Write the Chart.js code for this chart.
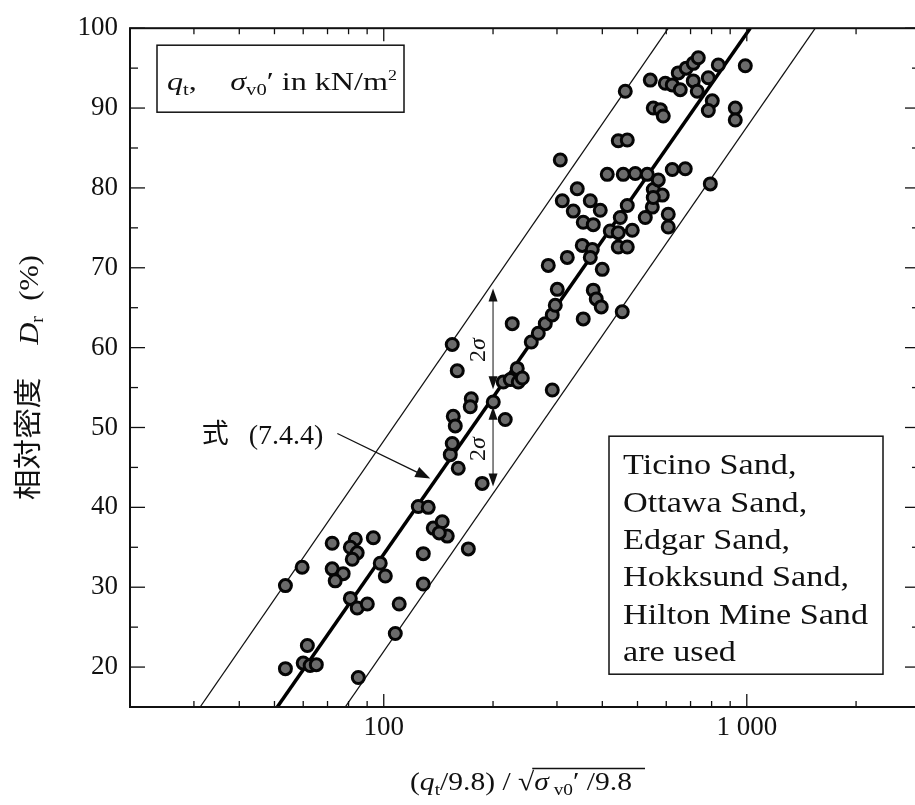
<!DOCTYPE html>
<html>
<head>
<meta charset="utf-8">
<script src="https://cdn.jsdelivr.net/npm/chart.js@4.4.1/dist/chart.umd.min.js"></script>
<style>
  html, body { margin: 0; padding: 0; overflow: hidden; background: #fff; }
  canvas { display: block; }
</style>
</head>
<body>
<canvas id="c" width="930" height="805" style="width:930px;height:805px"></canvas>
<script>
// Normalised cone resistance (q_t/9.8)/sqrt(sigma'_v0/9.8)
const normQt = [
  53.6, 60.0, 62.7, 65.2, 61.6, 85.1, 107.6, 110.3, 80.9, 84.5,
  90.1, 53.6, 59.6, 72.1, 77.3, 73.5, 72.1, 83.5, 80.9, 84.5,
  81.9, 93.6, 97.8, 101.0, 128.5, 128.5, 124.5, 132.6, 136.9, 144.9,
  149.6, 142.2, 171.0, 160.4, 152.5, 154.4, 155.4, 157.4, 154.4, 159.4,
  174.2, 173.1, 186.7, 200.3, 216.1, 225.9, 213.4, 223.1, 234.7, 233.2,
  240.8, 291.2, 254.9, 266.5, 278.6, 291.2, 296.8, 354.4, 377.7, 384.9,
  397.3, 453.9, 300.6, 283.9, 320.3, 399.8, 352.2, 375.3, 370.6, 442.6,
  468.6, 420.7, 442.6, 483.7, 354.4, 377.7, 332.7, 370.6, 394.8, 448.3,
  468.6, 549.2, 525.3, 607.7, 607.7, 552.6, 585.1, 552.6, 310.3, 341.2,
  306.4, 412.7, 456.8, 493.0, 532.0, 570.5, 623.4, 676.9, 793.5, 442.6,
  468.6, 462.7, 542.2, 596.4, 623.4, 647.5, 681.2, 712.2, 735.2, 834.7,
  990.6, 655.8, 712.2, 730.5, 783.5, 803.5, 783.5, 552.6, 577.7, 588.8,
  929.6, 929.6
];
// Relative density Dr (%)
const relDensity = [
  19.8, 20.5, 20.2, 20.3, 22.7, 18.7, 24.2, 27.9, 28.6, 27.4,
  27.9, 30.2, 32.5, 32.3, 31.7, 30.8, 35.5, 36.0, 35.0, 34.3,
  33.5, 36.2, 33.0, 31.4, 30.4, 34.2, 40.1, 40.0, 37.4, 38.2,
  36.4, 36.8, 34.8, 44.9, 46.6, 48.0, 51.4, 50.2, 60.4, 57.1,
  53.6, 52.6, 43.0, 53.2, 51.0, 63.0, 55.7, 56.0, 55.7, 57.4,
  56.2, 54.7, 60.7, 61.8, 63.0, 64.1, 65.3, 63.6, 67.2, 66.1,
  65.1, 64.5, 67.3, 70.3, 71.3, 69.8, 72.8, 72.3, 71.3, 72.6,
  72.6, 74.6, 74.4, 74.7, 75.7, 75.4, 77.1, 78.4, 77.2, 76.3,
  77.8, 77.6, 76.3, 76.7, 75.1, 79.8, 79.1, 78.8, 78.4, 79.9,
  83.5, 81.7, 81.7, 81.8, 81.7, 81.0, 82.3, 82.4, 80.5, 85.9,
  86.0, 92.1, 93.5, 93.1, 92.9, 94.4, 95.0, 95.6, 96.3, 95.4,
  95.3, 92.3, 93.4, 92.1, 93.8, 90.9, 89.7, 90.0, 89.8, 89.0,
  90.0, 88.5
];

// Eq. (7.4.4) and the +/- 2 sigma band (end points on the plot frame)
const trendX = [50.9, 1022];
const trendDr = [15, 100];
const upperBandX = [31.2, 608];
const upperBandDr = [15, 100];
const lowerBandX = [78.3, 1544];
const lowerBandDr = [15, 100];

// Axis ticks
const xTickValues = [20, 30, 40, 50, 60, 70, 80, 90, 100, 200, 300, 400, 500, 600, 700, 800, 900, 1000, 2000, 3000];
const xLabelValues = [100, 1000];
const xLabelTexts = ['100', '1 000'];
const yTickValues = [15, 20, 25, 30, 35, 40, 45, 50, 55, 60, 65, 70, 75, 80, 85, 90, 95, 100];
const yLabelValues = [20, 30, 40, 50, 60, 70, 80, 90, 100];

// Annotation anchors (data units)
const sigmaArrowX = 200;
const sigmaUpper = [67.4, 54.8];
const sigmaLower = [52.6, 42.6];
const sigmaLabelDr = [59.7, 47.3];
const eqArrowTail = [74.5, 49.25];
const eqArrowTip = [134.3, 43.6];
const sandNames = ['Ticino Sand,', 'Ottawa Sand,', 'Edgar Sand,', 'Hokksund Sand,', 'Hilton Mine Sand', 'are used'];

const SERIF = '"Liberation Serif", "Times New Roman", serif';
const CJK = '"Noto Sans CJK JP", "Noto Sans CJK SC", sans-serif';

function xy(xs, ys) { return xs.map((x, i) => ({ x: x, y: ys[i] })); }

// Draw a run of differently styled text pieces, optionally squeezed/stretched to a width
function drawRich(ctx, segs, x, y, targetW) {
  const ws = segs.map(s => {
    if (s.gap) return s.gap;
    ctx.font = s.font;
    return ctx.measureText(s.t).width;
  });
  const tot = ws.reduce((a, b) => a + b, 0);
  const sx = targetW ? targetW / tot : 1;
  ctx.save();
  ctx.translate(x, y);
  ctx.scale(sx, 1);
  let cx = 0;
  const pos = [];
  segs.forEach((s, i) => {
    pos.push(cx);
    if (!s.gap) {
      ctx.font = s.font;
      ctx.fillText(s.t, cx, s.dy || 0);
    }
    cx += ws[i];
  });
  ctx.restore();
  return { sx: sx, pos: pos.map(p => x + p * sx), widths: ws.map(w => w * sx) };
}

function arrowHead(ctx, tx, ty, ang, len, hw) {
  ctx.save();
  ctx.translate(tx, ty);
  ctx.rotate(ang);
  ctx.beginPath();
  ctx.moveTo(0, 0);
  ctx.lineTo(-len, -hw);
  ctx.lineTo(-len, hw);
  ctx.closePath();
  ctx.fill();
  ctx.restore();
}

function seg(ctx, x1, y1, x2, y2) {
  ctx.beginPath();
  ctx.moveTo(x1, y1);
  ctx.lineTo(x2, y2);
  ctx.stroke();
}

const decorations = {
  id: 'decorations',
  afterDatasetsDraw(chart) {
    const ctx = chart.ctx;
    const a = chart.chartArea;
    const xs = chart.scales.x, ys = chart.scales.y;
    ctx.save();
    ctx.fillStyle = '#111';
    ctx.strokeStyle = '#111';

    // inward tick marks on all four sides
    ctx.lineWidth = 1.3;
    xTickValues.forEach(v => {
      const px = xs.getPixelForValue(v);
      const len = (v === 100 || v === 1000) ? 13 : 6;
      seg(ctx, px, a.bottom, px, a.bottom - len);
      seg(ctx, px, a.top, px, a.top + len);
    });
    yTickValues.forEach(v => {
      const py = ys.getPixelForValue(v);
      const len = (v % 10 === 0) ? 15 : 8;
      seg(ctx, a.left, py, a.left + len, py);
      seg(ctx, a.right, py, a.right - len, py);
    });

    // frame
    ctx.lineWidth = 2;
    ctx.strokeRect(a.left, a.top, a.right - a.left, a.bottom - a.top);

    // 2 sigma arrows
    const sx = xs.getPixelForValue(sigmaArrowX);
    ctx.lineWidth = 1;
    [sigmaUpper, sigmaLower].forEach(r => {
      const y1 = ys.getPixelForValue(r[0]);
      const y2 = ys.getPixelForValue(r[1]);
      seg(ctx, sx, y1 + 6, sx, y2 - 6);
      arrowHead(ctx, sx, y1, -Math.PI / 2, 13, 4.5);
      arrowHead(ctx, sx, y2, Math.PI / 2, 13, 4.5);
    });
    sigmaLabelDr.forEach(d => {
      const py = ys.getPixelForValue(d);
      ctx.save();
      ctx.translate(sx - 8, py);
      ctx.rotate(-Math.PI / 2);
      ctx.textBaseline = 'alphabetic';
      const segs = [
        { t: '2', font: '24px ' + SERIF },
        { t: 'σ', font: 'italic 24px ' + SERIF }
      ];
      ctx.font = segs[0].font;
      const w = ctx.measureText('2').width;
      ctx.font = segs[1].font;
      const w2 = ctx.measureText('σ').width;
      drawRich(ctx, segs, -(w + w2) / 2, 0);
      ctx.restore();
    });

    // Eq. (7.4.4) pointer
    const tx = xs.getPixelForValue(eqArrowTail[0]), ty = ys.getPixelForValue(eqArrowTail[1]);
    const hx = xs.getPixelForValue(eqArrowTip[0]), hy = ys.getPixelForValue(eqArrowTip[1]);
    const ang = Math.atan2(hy - ty, hx - tx);
    ctx.lineWidth = 1.3;
    seg(ctx, tx, ty, hx - 12 * Math.cos(ang), hy - 12 * Math.sin(ang));
    arrowHead(ctx, hx, hy, ang, 15, 5.5);
    ctx.textBaseline = 'alphabetic';
    ctx.textAlign = 'left';
    ctx.font = '28px ' + SERIF;
    const eqText = '(7.4.4)';
    const eqW = ctx.measureText(eqText).width;
    ctx.fillText(eqText, tx - 14 - eqW, ty + 11);
    ctx.font = '27px ' + CJK;
    ctx.fillText('式', tx - 14 - eqW - 47, ty + 10);

    // unit box (top left)
    ctx.lineWidth = 1.5;
    const bx = a.left + 27, by = a.top + 17;
    ctx.fillStyle = '#fff';
    ctx.fillRect(bx, by, 247, 67);
    ctx.strokeRect(bx, by, 247, 67);
    ctx.fillStyle = '#111';
    drawRich(ctx, [
      { t: 'q', font: 'italic 25px ' + SERIF },
      { t: 't', font: '16px ' + SERIF, dy: 5 },
      { t: ',', font: '25px ' + SERIF },
      { gap: 26 },
      { t: 'σ', font: 'italic 25px ' + SERIF },
      { t: 'v0', font: '16px ' + SERIF, dy: 5 },
      { t: '′ in kN/m', font: '25px ' + SERIF },
      { t: '2', font: '14px ' + SERIF, dy: -10 }
    ], bx + 10, by + 45, 230);

    // materials box (lower right)
    const lx = a.left + 479, ly = a.top + 408;
    ctx.fillStyle = '#fff';
    ctx.fillRect(lx, ly, 274, 238);
    ctx.strokeRect(lx, ly, 274, 238);
    ctx.fillStyle = '#111';
    ctx.font = '30px ' + SERIF;
    const stretch = 245 / ctx.measureText('Hilton Mine Sand').width;
    sandNames.forEach((s, i) => {
      drawRich(ctx, [{ t: s, font: '30px ' + SERIF }], lx + 14, ly + 38 + i * 37.4, ctx.measureText(s).width * stretch);
    });

    // x-axis title
    ctx.font = '26px ' + SERIF;
    const xt = drawRich(ctx, [
      { t: '(', font: '26px ' + SERIF },
      { t: 'q', font: 'italic 26px ' + SERIF },
      { t: 't', font: '17px ' + SERIF, dy: 5 },
      { t: '/9.8)', font: '26px ' + SERIF },
      { t: ' / ', font: '26px ' + SERIF },
      { t: '√', font: '26px ' + SERIF },
      { t: 'σ', font: 'italic 26px ' + SERIF },
      { t: ' v0', font: '17px ' + SERIF, dy: 5 },
      { t: '′ /9.8', font: '26px ' + SERIF }
    ], 410, 790, 222);
    ctx.lineWidth = 1.3;
    const rootEnd = xt.pos[5] + xt.widths[5];
    seg(ctx, rootEnd - 2, 768.5, 645, 768.5);

    // y-axis title (rotated)
    ctx.save();
    ctx.translate(38, 500);
    ctx.rotate(-Math.PI / 2);
    drawRich(ctx, [
      { t: '相対密度', font: '28px ' + CJK },
      { gap: 30 },
      { t: 'D', font: 'italic 28px ' + SERIF },
      { t: 'r', font: '18px ' + SERIF, dy: 5 },
      { t: '  (%)', font: '28px ' + SERIF }
    ], 0, 0, 245);
    ctx.restore();

    ctx.restore();
  }
};

new Chart(document.getElementById('c'), {
  type: 'scatter',
  data: {
    datasets: [
      {
        label: 'Dr',
        data: xy(normQt, relDensity),
        pointRadius: 6,
        pointBackgroundColor: '#6b6b6b',
        pointBorderColor: '#050505',
        pointBorderWidth: 3,
        order: 0
      },
      {
        label: 'Eq. (7.4.4)',
        data: xy(trendX, trendDr),
        showLine: true,
        borderColor: '#000',
        borderWidth: 3.5,
        pointRadius: 0,
        order: 1
      },
      {
        label: '+2 sigma',
        data: xy(upperBandX, upperBandDr),
        showLine: true,
        borderColor: '#111',
        borderWidth: 1.3,
        pointRadius: 0,
        order: 1
      },
      {
        label: '-2 sigma',
        data: xy(lowerBandX, lowerBandDr),
        showLine: true,
        borderColor: '#111',
        borderWidth: 1.3,
        pointRadius: 0,
        order: 1
      }
    ]
  },
  options: {
    responsive: false,
    animation: false,
    events: [],
    layout: { padding: { top: 25, right: 10, left: 0, bottom: 0 } },
    plugins: { legend: { display: false }, tooltip: { enabled: false } },
    scales: {
      x: {
        type: 'logarithmic',
        position: 'bottom',
        min: 20,
        max: 3000,
        grid: { display: false, drawTicks: false },
        border: { display: false },
        afterBuildTicks: s => { s.ticks = xTickValues.map(v => ({ value: v })); },
        afterFit: s => { s.height = 98; },
        ticks: {
          autoSkip: false,
          maxRotation: 0,
          padding: 5,
          color: '#111',
          font: { family: SERIF, size: 27 },
          callback: v => { const i = xLabelValues.indexOf(v); return i >= 0 ? xLabelTexts[i] : ''; }
        }
      },
      y: {
        type: 'linear',
        min: 15,
        max: 100,
        grid: { display: false, drawTicks: false },
        border: { display: false },
        afterBuildTicks: s => { s.ticks = yTickValues.map(v => ({ value: v })); },
        afterFit: s => { s.width = 130; },
        ticks: {
          autoSkip: false,
          padding: 12,
          color: '#111',
          font: { family: SERIF, size: 27 },
          callback: v => yLabelValues.includes(v) ? String(v) : ''
        }
      }
    }
  },
  plugins: [decorations]
});
</script>
</body>
</html>
